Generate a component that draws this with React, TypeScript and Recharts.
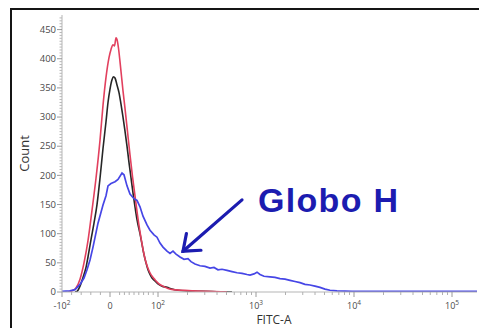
import React from 'react';
import { LineChart, Line, XAxis, YAxis, ReferenceLine, ReferenceDot } from 'recharts';

// Histogram channels (biexponential display units) and counts per sample
const blackChannels = [26, 30, 36, 42, 48, 52, 58, 64, 70, 76, 82, 88, 92, 96, 100, 103, 106, 110, 114, 118, 122, 126, 130, 134, 138, 142, 146, 150, 156, 160, 164, 168, 172, 176, 180, 186, 192, 200, 210, 220, 232, 250, 280, 310, 340];
const blackCounts = [0, 1, 10, 25, 42, 60, 90, 118, 150, 195, 246, 292, 325, 348, 364, 369, 367, 355, 342, 322, 300, 276, 250, 222, 196, 170, 146, 124, 100, 82, 64, 50, 38, 30, 24, 19, 14, 10, 8, 5, 3, 2, 1, 0.5, 0];

const redChannels = [12, 20, 28, 36, 44, 52, 60, 68, 76, 82, 88, 94, 98, 102, 105, 108, 110, 113, 116, 119, 122, 126, 131, 136, 141, 146, 151, 156, 161, 166, 171, 176, 181, 186, 194, 202, 212, 222, 240, 260, 290, 330];
const redCounts = [0, 2, 7, 22, 50, 88, 140, 195, 260, 320, 368, 402, 416, 424, 422, 436, 433, 418, 395, 370, 345, 315, 275, 235, 198, 165, 132, 103, 78, 57, 43, 33, 26, 21, 14, 10, 6, 4, 3, 2, 1, 0];

const blueChannels = [0, 16, 26, 36, 44, 50, 56, 62, 72, 82, 88, 92, 98, 106, 112, 120, 124, 130, 136, 144, 150, 156, 162, 170, 176, 184, 190, 196, 202, 210, 216, 222, 228, 236, 244, 252, 258, 266, 276, 286, 296, 304, 312, 320, 330, 340, 350, 360, 370, 376, 384, 390, 396, 404, 416, 426, 436, 446, 456, 466, 476, 486, 496, 506, 516, 526, 536, 550, 566, 580, 650, 720, 830];
const blueCounts = [1, 2, 4, 13, 24, 38, 55, 77, 118, 149, 165, 182, 186, 189, 193, 204, 201, 182, 168, 160, 157, 146, 130, 115, 106, 98, 94, 84, 77, 70, 66, 70, 65, 60, 56, 57, 52, 48, 45, 44, 41, 42, 38, 39, 37, 35, 33, 32, 30, 29, 31, 34, 30, 27, 26, 25, 23, 22, 20, 18, 16, 13, 12, 10, 8, 5, 3, 2, 1.5, 1, 1, 1, 1];

// Axis tick values and labels
const xTickValues = [-100, 0, 100, 1000, 10000, 100000];
const xTickBases = ['-10', '0', '10', '10', '10', '10'];
const xTickExps = ['2', '', '2', '3', '4', '5'];
const yTickValues = [0, 50, 100, 150, 200, 250, 300, 350, 400, 450];

const annotationText = 'Globo H';
const xAxisTitle = 'FITC-A';
const yAxisTitle = 'Count';

// biexponential display transform (value -> channel)
function toChannel(v: number): number {
  if (v <= 100) return 96 + v * 0.96;
  return 192 + (Math.log10(v) - 2) * 196;
}

const zip = (xs: number[], ys: number[]) => xs.map((ch, i) => ({ ch, count: ys[i] }));
const blackData = zip(blackChannels, blackCounts);
const redData = zip(redChannels, redCounts);
const blueData = zip(blueChannels, blueCounts);

const majorX = new Map<number, number>();
xTickValues.forEach((v, i) => majorX.set(toChannel(v), i));
const minorXValues: number[] = [];
[-80, -60, -40, -20, 20, 30, 40, 50, 60, 70, 80, 90].forEach((v) => minorXValues.push(v));
[100, 1000, 10000].forEach((d) => {
  for (let k = 2; k <= 9; k++) minorXValues.push(k * d);
});
const xTicks = [...xTickValues, ...minorXValues].map(toChannel).sort((a, b) => a - b);

const yTicks: number[] = [];
for (let v = 0; v <= 470; v += 5) yTicks.push(v);

const FONT = '"Open Sans", "Noto Sans", sans-serif';

const XTick = (props: any) => {
  const { x, y, payload } = props;
  const idx = majorX.get(payload.value);
  if (idx === undefined) {
    return <line x1={x} y1={y} x2={x} y2={y + 3} stroke="#b0b0b0" strokeWidth={1} />;
  }
  return (
    <g>
      <line x1={x} y1={y} x2={x} y2={y + 5} stroke="#9a9a9a" strokeWidth={1} />
      <text x={x} y={y + 17} textAnchor="middle" fontFamily={FONT} fontSize={9} fill="#4a4a4a">
        <tspan>{xTickBases[idx]}</tspan>
        {xTickExps[idx] ? (
          <tspan dy={-4} fontSize={6.5}>{xTickExps[idx]}</tspan>
        ) : null}
      </text>
    </g>
  );
};

const YTick = (props: any) => {
  const { x, y, payload } = props;
  const v = payload.value;
  if (yTickValues.indexOf(v) < 0) {
    return <line x1={x - 2.5} y1={y} x2={x} y2={y} stroke="#b8b8b8" strokeWidth={1} />;
  }
  return (
    <g>
      <line x1={x - 5} y1={y} x2={x} y2={y} stroke="#9a9a9a" strokeWidth={1} />
      <text x={x - 6} y={y + 3.2} textAnchor="end" fontFamily={FONT} fontSize={9.5} fill="#4a4a4a">
        {v}
      </text>
    </g>
  );
};

const arrowShape = (p: any) => {
  const { x1, y1, x2, y2 } = p;
  const dx = x1 - x2;
  const dy = y1 - y2;
  const len = Math.sqrt(dx * dx + dy * dy) || 1;
  const ux = dx / len;
  const uy = dy / len;
  const a = (38 * Math.PI) / 180;
  const L = 18;
  const r1x = ux * Math.cos(a) - uy * Math.sin(a);
  const r1y = ux * Math.sin(a) + uy * Math.cos(a);
  const r2x = ux * Math.cos(-a) - uy * Math.sin(-a);
  const r2y = ux * Math.sin(-a) + uy * Math.cos(-a);
  const col = '#1c1cb0';
  return (
    <g>
      <line x1={x1} y1={y1} x2={x2} y2={y2} stroke={col} strokeWidth={3.2} strokeLinecap="round" />
      <polyline
        points={`${x2 + r1x * L},${y2 + r1y * L} ${x2},${y2} ${x2 + r2x * L},${y2 + r2y * L}`}
        fill="none"
        stroke={col}
        strokeWidth={3.2}
        strokeLinecap="round"
        strokeLinejoin="miter"
      />
    </g>
  );
};

const textShape = (p: any) => (
  <text
    x={p.cx}
    y={p.cy}
    fontFamily='"Liberation Sans", Arial, sans-serif'
    fontWeight="bold"
    fontSize={34}
    letterSpacing={1.3}
    fill="#1c1cb0"
  >
    {annotationText}
  </text>
);

export default function App() {
  return (
    <div
      style={{
        position: 'absolute',
        left: 0,
        top: 0,
        width: 479,
        height: 328,
        overflow: 'hidden',
        background: '#fff',
      }}
    >
      <div
        style={{
          position: 'absolute',
          left: 10,
          top: 8,
          width: 480,
          height: 340,
          borderTop: '2px solid #151515',
          borderLeft: '2px solid #151515',
        }}
      />
      <div style={{ position: 'absolute', left: 0, top: 0 }}>
        <LineChart width={479} height={328} margin={{ top: 15, right: 2, bottom: 0, left: 0 }}>
          <XAxis
            type="number"
            dataKey="ch"
            domain={[0, 830]}
            ticks={xTicks}
            interval={0}
            tick={<XTick />}
            tickLine={false}
            tickSize={0}
            tickMargin={0}
            axisLine={{ stroke: '#b5b5b5' }}
            height={36}
            allowDataOverflow
            label={{
              value: xAxisTitle,
              content: (lp: any) => {
                const vb = lp.viewBox || { x: 62, y: 292 };
                return (
                  <text x={vb.x + 212} y={vb.y + 32} textAnchor="middle" fontFamily={FONT} fontSize={12} fill="#333">
                    {xAxisTitle}
                  </text>
                );
              },
            }}
          />
          <YAxis
            type="number"
            domain={[0, 475]}
            ticks={yTicks}
            interval={0}
            tick={<YTick />}
            tickLine={false}
            tickSize={0}
            tickMargin={0}
            axisLine={{ stroke: '#b5b5b5' }}
            width={62}
            allowDataOverflow
            label={{
              value: yAxisTitle,
              content: (lp: any) => {
                const vb = lp.viewBox || { x: 0, y: 15, height: 277 };
                const cx = vb.x + 29;
                const cy = vb.y + vb.height / 2;
                return (
                  <text
                    x={cx}
                    y={cy}
                    textAnchor="middle"
                    transform={`rotate(-90 ${cx} ${cy})`}
                    fontFamily={FONT}
                    fontSize={13}
                    fill="#333"
                  >
                    {yAxisTitle}
                  </text>
                );
              },
            }}
          />
          <Line data={blackData} dataKey="count" type="monotone" stroke="#262626" strokeWidth={1.6} dot={false} isAnimationActive={false} />
          <Line data={redData} dataKey="count" type="monotone" stroke="#e2405e" strokeWidth={1.6} dot={false} isAnimationActive={false} />
          <Line data={blueData} dataKey="count" type="linear" stroke="#4646e6" strokeWidth={1.7} dot={false} isAnimationActive={false} />
          <ReferenceLine
            segment={[{ x: 360, y: 158 }, { x: 242, y: 70 }]}
            shape={arrowShape}
          />
          <ReferenceDot x={392} y={137} r={0} shape={textShape} />
        </LineChart>
      </div>
    </div>
  );
}
